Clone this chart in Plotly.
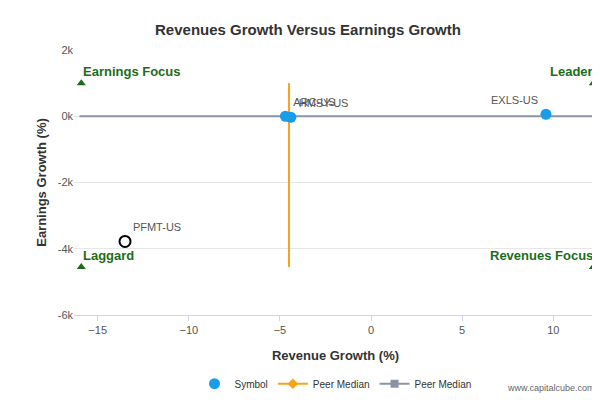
import plotly.graph_objects as go

names = ["ARC-US", "HMSY-US", "EXLS-US"]
rev = [-4.7, -4.4, 9.6]
earn = [0, -30, 60]
pos = ["top right", "top right", "top left"]
pf_name = ["PFMT-US"]
pf_rev = [-13.5]
pf_earn = [-3780]
med_x = -4.5
med_y = [1000, -4550]
h_x = [-16.0, 12.2]
corner_x = [-15.9, 12.2, -15.9, 12.2]
corner_y = [1000, 1000, -4550, -4550]
corner_txt = ["Earnings Focus", "Leader", "Laggard", "Revenues Focus"]

fig = go.Figure()
fig.add_trace(go.Scatter(x=[med_x, med_x], y=med_y, mode="lines", line=dict(color="#f7a21b", width=2),
                         name="Peer Median", showlegend=False, hoverinfo="skip"))
fig.add_trace(go.Scatter(x=h_x, y=[0, 0], mode="lines", line=dict(color="#8a94a6", width=2),
                         name="Peer Median", showlegend=False, hoverinfo="skip"))
fig.add_trace(go.Scatter(x=rev, y=earn, mode="markers+text", text=names, textposition=pos,
                         textfont=dict(size=11, color="#555"),
                         marker=dict(color="#1a9de8", size=11), name="Symbol"))
fig.add_trace(go.Scatter(x=pf_rev, y=pf_earn, mode="markers+text", text=pf_name, textposition="top right",
                         textfont=dict(size=11, color="#555"),
                         marker=dict(color="white", size=11, line=dict(color="black", width=2)), showlegend=False))
fig.add_trace(go.Scatter(x=corner_x, y=corner_y, mode="markers", marker=dict(symbol="triangle-up", color="#1a6e1a", size=8),
                         showlegend=False))
fig.add_trace(go.Scatter(x=[None], y=[None], mode="lines+markers", line=dict(color="#f7a21b", width=2),
                         marker=dict(symbol="diamond", size=8, color="#f7a21b"), name="Peer Median"))
fig.add_trace(go.Scatter(x=[None], y=[None], mode="lines+markers", line=dict(color="#8a94a6", width=2),
                         marker=dict(symbol="square", size=8, color="#8a94a6"), name="Peer Median"))

anns = []
for x, y, t, i in zip(corner_x, corner_y, corner_txt, range(4)):
    left = i % 2 == 0
    anns.append(dict(x=x, y=y, text="<b>%s</b>" % t, showarrow=False, xanchor="left" if left else "right",
                     yanchor="bottom", xshift=0 if left else 2, yshift=2,
                     font=dict(size=13, color="#1a6e1a", family="Liberation Sans")))
anns.append(dict(x=1, y=-0.3, xref="paper", yref="paper", text="www.capitalcube.com", showarrow=False,
                 xanchor="right", font=dict(size=9, color="#666")))

fig.update_layout(
    width=600, height=400, plot_bgcolor="white", paper_bgcolor="white",
    font=dict(family="Liberation Sans", size=11, color="#555"),
    title=dict(text="<b>Revenues Growth Versus Earnings Growth</b>", x=0.5, y=0.96, font=dict(size=15, color="#333")),
    margin=dict(l=66, r=11, t=42, b=92),
    xaxis=dict(range=[-16.3, 12.4], tickvals=[-15, -10, -5, 0, 5, 10], showgrid=False, zeroline=False,
               showline=True, linecolor="#ccd6eb", ticks="outside", tickcolor="#ccd6eb", automargin=False,
               title=dict(text="<b>Revenue Growth (%)</b>", font=dict(size=13, color="#333"))),
    yaxis=dict(range=[-6000, 2000], tickvals=[2000, 0, -2000, -4000, -6000], automargin=False,
               ticktext=["2k", "0k", "-2k", "-4k", "-6k"], showgrid=True, gridcolor="#e6e6e6", zeroline=False,
               title=dict(text="<b>Earnings Growth (%)</b>", font=dict(size=13, color="#333"), standoff=8)),
    legend=dict(orientation="h", x=0.5, xanchor="center", y=-0.2, font=dict(size=10, color="#333")),
    annotations=anns,
)
fig.write_html("out.html")
